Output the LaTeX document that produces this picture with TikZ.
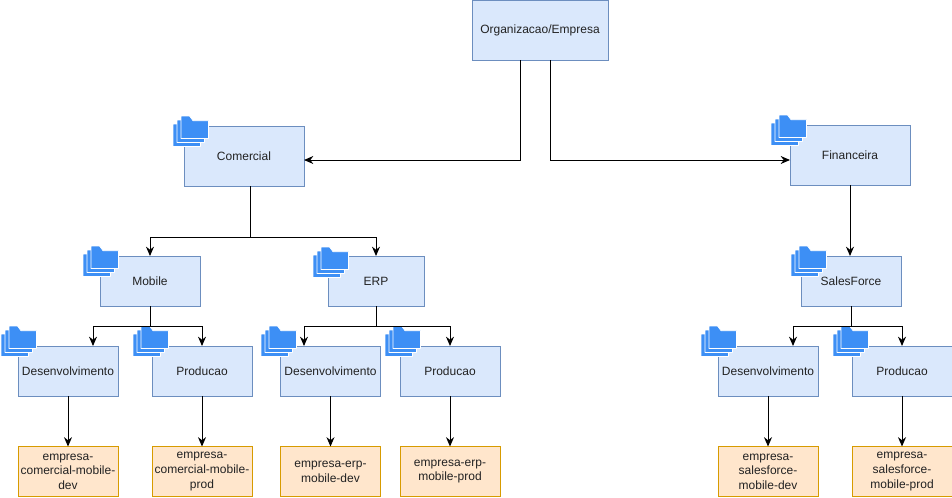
\documentclass[tikz,border=0pt]{standalone}
\usepackage{fontspec}
\setmainfont{Liberation Sans}
\usetikzlibrary{arrows.meta}
\definecolor{boxblue}{HTML}{DAE8FC}
\definecolor{lineblue}{HTML}{6C8EBF}
\definecolor{boxorange}{HTML}{FFE6CC}
\definecolor{lineorange}{HTML}{D79B00}
\definecolor{folderblue}{HTML}{3D8FF5}
\definecolor{textgray}{HTML}{222222}
\tikzset{
  unit/.style={draw=lineblue,fill=boxblue,text=textgray,line width=0.75pt,outer sep=0pt,inner sep=0pt,
    font=\fontsize{9}{11}\selectfont,align=center,minimum width=75pt,minimum height=37.5pt},
  project/.style={unit,draw=lineorange,fill=boxorange},
  link/.style={black,line width=0.75pt,-{Stealth[length=7pt,width=6pt]}},
  folder sheet/.style={fill=folderblue,draw=white,line width=0.5pt,line join=round},
  folders/.pic={
    \foreach \d in {8,4,0}{
      \draw [folder sheet] (8-\d,\d) -- ++(8.5,0) -- ++(3.5,4.7) -- ++(15.5,0) -- ++(0,17.8) -- ++(-27.5,0) -- cycle;
    }
  }
}
\begin{document}
\begin{tikzpicture}[x=0.75pt,y=-0.75pt]
\useasboundingbox (0,0) rectangle (952,497);
% top level
\node [unit,minimum width=102pt,minimum height=45pt] (org) at (540,30) {Organizacao/Empresa};
\node [unit,minimum width=90pt,minimum height=45pt] (comercial) at (244,156) {Comercial};
\node [unit,minimum width=90pt,minimum height=45pt] (financeira) at (850,155) {Financeira};
% second level
\node [unit] (mobile) at (150,281) {Mobile};
\node [unit,minimum width=72pt] (erp) at (376,281) {ERP};
\node [unit] (salesforce) at (851,281) {SalesForce};
% environments
\node [unit] (dev1) at (68,371) {Desenvolvimento};
\node [unit] (prod1) at (202,371) {Producao};
\node [unit] (dev2) at (330.5,371) {Desenvolvimento};
\node [unit] (prod2) at (450,371) {Producao};
\node [unit] (dev3) at (768,371) {Desenvolvimento};
\node [unit] (prod3) at (902,371) {Producao};
% projects
\node [project] (proj1) at (68,471.5) {empresa-\\comercial-mobile-\\dev};
\node [project] (proj2) at (202,471.5) {empresa-\\comercial-mobile-\\prod};
\node [project] (proj3) at (330.5,471.5) {empresa-erp-\\mobile-dev};
\node [project] (proj4) at (450,471.5) {empresa-erp-\\mobile-prod};
\node [project] (proj5) at (768,471.5) {empresa-\\salesforce-\\mobile-dev};
\node [project] (proj6) at (902,471.5) {empresa-\\salesforce-\\mobile-prod};
% folder icons
\foreach \x/\y in {173/116,771/115,83/246,313/247,791/246,1/326,133/326,261/326,385/326,701/326,833/326}{
  \pic at (\x,\y) {folders};
}
% connectors
\coordinate (orgleft) at (520.5,60);
\coordinate (orgright) at (550.5,60);
\coordinate (comercialin) at (304,160);
\coordinate (financeirain) at (790,160);
\coordinate (comercialout) at (250,186);
\coordinate (dev1in) at (93,346);
\coordinate (dev2in) at (304,346);
\coordinate (dev3in) at (793,346);
\draw [link] (orgleft) |- (comercialin);
\draw [link] (orgright) |- (financeirain);
\draw [link] (comercialout) -- (250,237) -| (mobile.north);
\draw [link] (comercialout) -- (250,237) -| (erp.north);
\draw [link] (financeira.south) -- (salesforce.north -| financeira.south);
\draw [link] (mobile.south) -- (150,326) -| (dev1in);
\draw [link] (mobile.south) -- (150,326) -| (prod1.north);
\draw [link] (erp.south) -- (376,326) -| (dev2in);
\draw [link] (erp.south) -- (376,326) -| (prod2.north);
\draw [link] (salesforce.south) -- (851,326) -| (dev3in);
\draw [link] (salesforce.south) -- (851,326) -| (prod3.north);
\draw [link] (dev1) -- (proj1);
\draw [link] (prod1) -- (proj2);
\draw [link] (dev2) -- (proj3);
\draw [link] (prod2) -- (proj4);
\draw [link] (dev3) -- (proj5);
\draw [link] (prod3) -- (proj6);
\end{tikzpicture}
\end{document}
